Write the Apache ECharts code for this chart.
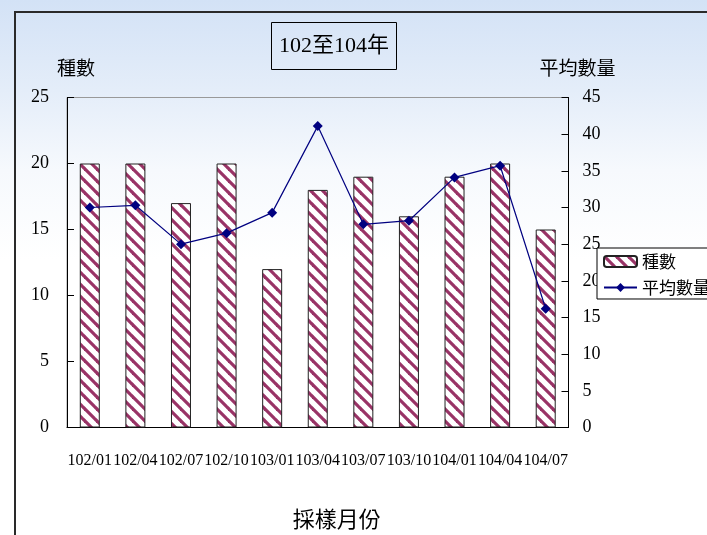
<!DOCTYPE html>
<html>
<head>
<meta charset="utf-8">
<script src="https://cdn.jsdelivr.net/npm/echarts@6/dist/echarts.min.js"></script>
<style>
  html, body { margin: 0; padding: 0; width: 707px; height: 535px; overflow: hidden;
    background: linear-gradient(180deg, #d3e2f6 0px, #e4edf9 90px, #f6f9fd 170px, #ffffff 260px, #ffffff 535px); }
  #frame { position: absolute; left: 14px; top: 11px; width: 800px; height: 600px;
    border-left: 2px solid #2a2a2a; border-top: 2px solid #2a2a2a; box-sizing: border-box; }
  #chart { position: absolute; left: 0; top: 0; width: 707px; height: 535px; }
</style>
</head>
<body>
<div id="frame"></div>
<div id="chart"></div>
<script>
// ---- data ----
const categories = ['102/01','102/04','102/07','102/10','103/01','103/04','103/07','103/10','104/01','104/04','104/07'];
const speciesCount = [20, 20, 17, 20, 12, 18, 19, 16, 19, 20, 15];
const avgQuantity = [30, 30.3, 25, 26.5, 29.3, 41.1, 27.7, 28.2, 34.1, 35.7, 16.2];
const leftTicks = [0, 25, 5];   // min, max, interval
const rightTicks = [0, 45, 5];
const titleText = '102至104年';
const leftName = '種數';
const rightName = '平均數量';
const xName = '採樣月份';

// stripe pattern for bars
function makePattern() {
  const T = 12;
  const c = document.createElement('canvas');
  c.width = T; c.height = T;
  const g = c.getContext('2d');
  g.fillStyle = '#ffffff';
  g.fillRect(0, 0, T, T);
  g.strokeStyle = '#993366';
  g.lineWidth = 3.2;
  for (const off of [-T, 0, T]) {
    g.beginPath();
    g.moveTo(off - 1, -1);
    g.lineTo(off + T + 1, T + 1);
    g.stroke();
  }
  return c;
}
const pattern = { image: makePattern(), repeat: 'repeat' };

const serif = "'Liberation Serif', 'Times New Roman', 'Noto Sans CJK TC', serif";
const cjk = "'Noto Sans CJK TC', 'Liberation Serif', serif";

const chart = echarts.init(document.getElementById('chart'), null, { renderer: 'canvas' });
chart.setOption({
  backgroundColor: 'transparent',
  animation: false,
  title: {
    text: titleText,
    left: 271, top: 22,
    padding: [13, 8, 13, 8],
    borderColor: '#000', borderWidth: 1,
    textStyle: { fontFamily: serif, fontSize: 22, fontWeight: 'normal', color: '#000' }
  },
  legend: {
    orient: 'vertical',
    left: 597, top: 248,
    padding: [5, 60, 3, 6],
    itemGap: 9,
    itemWidth: 33, itemHeight: 11,
    backgroundColor: '#ffffff',
    borderColor: '#000', borderWidth: 1,
    textStyle: { fontFamily: cjk, fontSize: 17, color: '#000', padding: [0, 0, 0, 0] },
    data: [leftName, rightName]
  },
  grid: {
    left: 67, right: 138.5, top: 97.5, bottom: 107.5,
    show: true, borderColor: '#999', borderWidth: 1, backgroundColor: 'transparent'
  },
  xAxis: {
    type: 'category',
    data: categories,
    boundaryGap: true,
    name: xName,
    nameLocation: 'middle',
    nameGap: 80,
    nameTextStyle: { fontFamily: cjk, fontSize: 22, color: '#000', padding: [0, 0, 0, 38] },
    axisLine: { lineStyle: { color: '#000', width: 1 } },
    axisTick: { inside: true, length: 5, lineStyle: { color: '#000' } },
    axisLabel: { interval: 0, margin: 25, fontFamily: serif, fontSize: 16, color: '#000' }
  },
  yAxis: [
    {
      type: 'value',
      min: leftTicks[0], max: leftTicks[1], interval: leftTicks[2],
      name: leftName,
      nameLocation: 'end',
      nameGap: 20,
      nameTextStyle: { fontFamily: cjk, fontSize: 19, color: '#000', align: 'center', padding: [0, 0, 0, 18] },
      axisLine: { show: true, lineStyle: { color: '#000', width: 1 } },
      axisTick: { show: true, inside: true, length: 7, lineStyle: { color: '#000' } },
      splitLine: { show: false },
      axisLabel: { margin: 18, fontFamily: serif, fontSize: 18, color: '#000' }
    },
    {
      type: 'value',
      min: rightTicks[0], max: rightTicks[1], interval: rightTicks[2],
      name: rightName,
      nameLocation: 'end',
      nameGap: 20,
      nameTextStyle: { fontFamily: cjk, fontSize: 19, color: '#000', align: 'center', padding: [0, 0, 0, 18] },
      axisLine: { show: true, lineStyle: { color: '#000', width: 1 } },
      axisTick: { show: true, inside: true, length: 7, lineStyle: { color: '#000' } },
      splitLine: { show: false },
      axisLabel: { margin: 14, fontFamily: serif, fontSize: 18, color: '#000' }
    }
  ],
  series: [
    {
      name: leftName,
      type: 'bar',
      yAxisIndex: 0,
      data: speciesCount,
      barWidth: 20,
      itemStyle: { color: pattern, borderColor: '#222', borderWidth: 1 }
    },
    {
      name: rightName,
      type: 'line',
      yAxisIndex: 1,
      data: avgQuantity,
      symbol: 'diamond',
      symbolSize: 10,
      lineStyle: { color: '#000080', width: 1.2 },
      itemStyle: { color: '#000080' }
    }
  ]
});
</script>
</body>
</html>
